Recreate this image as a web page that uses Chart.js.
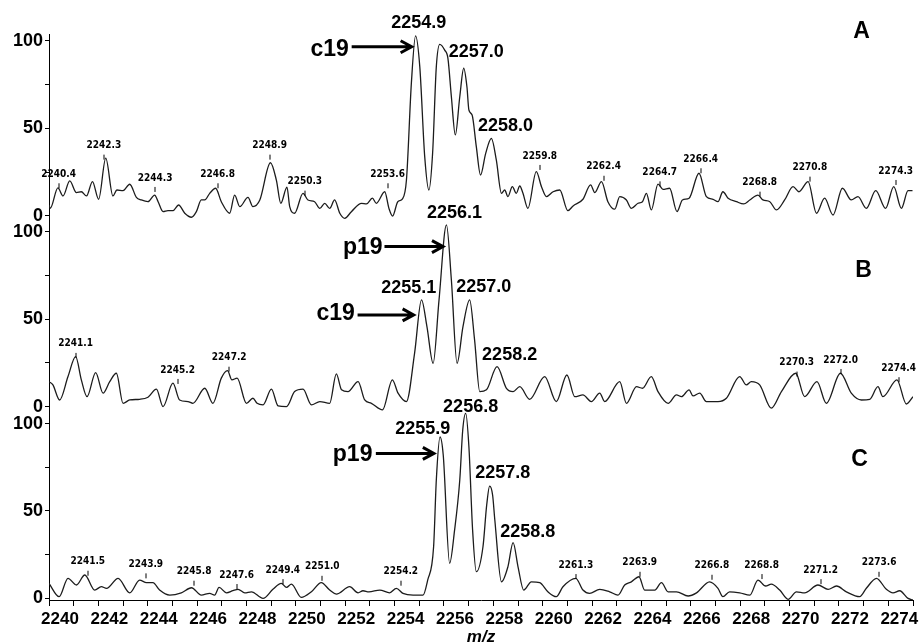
<!DOCTYPE html>
<html>
<head>
<meta charset="utf-8">
<script src="https://cdn.jsdelivr.net/npm/chart.js@4.4.1/dist/chart.umd.min.js"></script>
<style>
  html, body { margin: 0; padding: 0; background: #fff; }
</style>
</head>
<body>
<canvas id="spettro" width="921" height="643"></canvas>
<script>
// spettro A
var mzA = [2240.00, 2240.05, 2240.36, 2240.57, 2240.84, 2241.11, 2241.31, 2241.52, 2241.76, 2242.01,
  2242.30, 2242.59, 2242.75, 2243.00, 2243.27, 2243.54, 2243.74, 2244.01, 2244.28, 2244.42,
  2244.62, 2244.82, 2245.02, 2245.25, 2245.50, 2245.77, 2245.97, 2246.17, 2246.31, 2246.51,
  2246.75, 2246.98, 2247.32, 2247.52, 2247.73, 2248.06, 2248.26, 2248.54, 2248.97, 2249.21,
  2249.39, 2249.64, 2249.75, 2249.95, 2250.29, 2250.49, 2250.76, 2250.97, 2251.17, 2251.37,
  2251.57, 2251.78, 2251.98, 2252.25, 2252.66, 2252.86, 2253.10, 2253.26, 2253.60, 2253.77,
  2253.92, 2254.13, 2254.32, 2254.48, 2254.68, 2254.85, 2255.02, 2255.22, 2255.39, 2255.54,
  2255.69, 2255.83, 2256.03, 2256.16, 2256.30, 2256.46, 2256.64, 2256.80, 2256.93, 2257.01,
  2257.14, 2257.31, 2257.48, 2257.69, 2257.92, 2258.12, 2258.33, 2258.46, 2258.59, 2258.77,
  2258.93, 2259.07, 2259.20, 2259.40, 2259.74, 2259.95, 2260.15, 2260.42, 2260.69, 2261.02,
  2261.23, 2261.63, 2261.94, 2262.11, 2262.38, 2262.64, 2262.92, 2263.12, 2263.39, 2263.59,
  2263.86, 2264.04, 2264.20, 2264.40, 2264.67, 2264.87, 2265.14, 2265.44, 2265.66, 2265.93,
  2266.33, 2266.63, 2266.90, 2267.10, 2267.30, 2267.51, 2267.85, 2268.14, 2268.39, 2268.72,
  2268.92, 2269.20, 2269.47, 2269.80, 2270.14, 2270.38, 2270.75, 2271.09, 2271.42, 2271.76,
  2272.14, 2272.50, 2272.77, 2273.11, 2273.49, 2273.89, 2274.22, 2274.53, 2274.80, 2274.98];
var intA = [6.1, 4.2, 15.9, 11.3, 19.9, 13.2, 13.7, 11.3, 19.5, 9.4,
  32.9, 11.3, 14.7, 14.3, 18.0, 10.5, 9.0, 8.0, 11.8, 8.0,
  2.3, 2.9, 2.9, 6.1, 1.4, -0.9, 2.3, 9.0, 9.0, 12.8,
  15.7, 8.0, 1.4, 11.8, 5.2, 10.5, 5.2, 9.0, 30.3, 20.4,
  7.1, 16.3, 5.2, 1.4, 12.8, 9.0, 8.0, 4.2, 7.1, 4.2,
  9.0, 1.4, -1.5, 2.3, 7.1, 6.7, 10.0, 7.1, 13.7, 4.2,
  -0.2, 8.0, 9.6, 20.4, 76.0, 102.9, 85.3, 33.8, 14.7, 35.9,
  85.3, 98.1, 94.8, 90.1, 68.1, 46.2, 68.1, 84.4, 73.8, 60.5,
  57.6, 39.5, 23.3, 35.7, 44.3, 31.9, 12.8, 14.7, 10.9, 16.6,
  12.8, 17.0, 12.8, 4.2, 25.2, 16.6, 10.9, 13.7, 14.7, 2.9,
  5.6, 9.4, 17.6, 13.2, 19.5, 8.0, 3.7, 10.9, 9.0, 4.2,
  7.1, 8.0, 12.8, 3.3, 18.1, 15.1, 15.7, 2.3, 9.0, 10.0,
  24.3, 10.9, 9.4, 8.0, 13.7, 10.0, 8.0, 6.7, 9.0, 11.8,
  9.0, 8.0, 3.3, 9.0, 16.6, 13.7, 19.5, 1.4, 10.0, 0.4,
  15.7, 9.0, 10.9, 4.2, 14.3, 4.2, 16.6, 4.2, 14.3, 14.3];

// spettro B
var mzB = [2240.00, 2240.16, 2240.43, 2240.77, 2241.08, 2241.31, 2241.54, 2241.89, 2242.19, 2242.46,
  2242.73, 2243.00, 2243.27, 2243.67, 2244.01, 2244.35, 2244.62, 2245.02, 2245.29, 2245.63,
  2245.83, 2246.31, 2246.64, 2246.98, 2247.23, 2247.41, 2247.62, 2248.00, 2248.26, 2248.43,
  2248.67, 2249.01, 2249.28, 2249.62, 2249.95, 2250.29, 2250.63, 2250.97, 2251.37, 2251.64,
  2251.85, 2252.11, 2252.52, 2252.79, 2253.06, 2253.51, 2253.91, 2254.14, 2254.48, 2254.81,
  2255.09, 2255.31, 2255.56, 2255.80, 2256.10, 2256.30, 2256.53, 2256.77, 2257.04, 2257.24,
  2257.45, 2257.72, 2258.15, 2258.53, 2258.80, 2259.07, 2259.47, 2260.08, 2260.55, 2260.98,
  2261.30, 2261.63, 2261.97, 2262.31, 2262.51, 2263.12, 2263.39, 2263.80, 2264.04, 2264.40,
  2264.67, 2265.08, 2265.42, 2265.62, 2265.93, 2266.09, 2266.36, 2266.63, 2267.10, 2267.44,
  2267.98, 2268.25, 2268.45, 2268.79, 2269.26, 2269.67, 2270.25, 2270.61, 2271.11, 2271.49,
  2272.06, 2272.50, 2272.91, 2273.25, 2273.58, 2273.78, 2274.35, 2274.73, 2275.00];
var intB = [14.3, 12.4, 3.8, 17.2, 28.6, 15.3, 5.7, 19.5, 7.7, 14.3,
  19.1, 1.9, 3.8, 4.2, 5.4, 10.0, 0, 13.4, 3.8, 2.9,
  1.9, 10.5, 1.9, 16.3, 20.6, 15.3, 16.3, 1.9, 4.8, 1.9,
  1.0, 10.0, 0.4, 0, 8.6, 10.0, 1.0, 2.9, 1.9, 18.7,
  9.6, 8.6, 14.3, 3.8, 1.9, -1.9, 15.3, 7.7, 2.9, 30.6,
  61.1, 45.8, 24.8, 61.1, 104.0, 72.5, 24.8, 45.8, 61.1, 38.2,
  8.6, 9.6, 22.9, 10.5, 8.6, 11.4, 4.2, 17.2, 2.9, 18.1,
  5.7, 6.7, 2.9, 7.7, 2.9, 14.3, 1.9, 11.4, 10.5, 17.2,
  8.6, 1.9, 6.7, 5.7, 9.6, 6.1, 7.7, 2.9, 2.9, 4.8,
  17.2, 12.4, 14.3, 12.4, -0.9, 8.6, 19.1, 5.7, 14.3, 1.9,
  19.1, 7.7, 3.8, 4.2, 11.4, 5.7, 15.3, 1.5, 5.7];

// spettro C
var mzC = [2240.00, 2240.41, 2240.77, 2241.11, 2241.45, 2241.85, 2242.12, 2242.33, 2242.80, 2243.27,
  2243.67, 2243.95, 2244.21, 2244.48, 2244.89, 2245.36, 2245.77, 2246.17, 2246.51, 2246.71,
  2246.89, 2247.19, 2247.45, 2247.66, 2247.93, 2248.20, 2248.67, 2249.07, 2249.41, 2249.62,
  2249.82, 2250.22, 2250.63, 2251.03, 2251.37, 2251.64, 2252.18, 2252.52, 2252.72, 2252.96,
  2253.40, 2253.80, 2254.07, 2254.34, 2254.75, 2255.15, 2255.34, 2255.58, 2255.69, 2255.84,
  2255.97, 2256.23, 2256.43, 2256.64, 2256.76, 2256.88, 2257.01, 2257.16, 2257.31, 2257.58,
  2257.73, 2257.85, 2257.97, 2258.06, 2258.33, 2258.59, 2258.80, 2259.00, 2259.23, 2259.54,
  2259.88, 2260.21, 2260.55, 2260.82, 2261.34, 2261.63, 2261.90, 2262.31, 2262.71, 2263.05,
  2263.32, 2263.59, 2263.90, 2264.13, 2264.54, 2264.81, 2265.08, 2265.42, 2265.89, 2266.23,
  2266.76, 2267.10, 2267.30, 2267.57, 2267.98, 2268.39, 2268.72, 2269.03, 2269.26, 2269.60,
  2269.94, 2270.28, 2270.61, 2271.15, 2271.56, 2271.90, 2272.30, 2272.84, 2273.11, 2273.52,
  2273.92, 2274.19, 2274.46, 2274.80, 2275.00];
var intC = [8.5, 0.9, 11.4, 7.6, 13.3, 4.7, 6.6, 5.7, 11.4, 3.1,
  10.4, 8.9, 8.9, 4.7, 1.8, 3.1, 6.0, 1.8, 2.8, 1.8,
  6.2, 3.1, 4.3, 5.1, 3.1, 3.7, -0.1, 5.1, 8.5, 6.2,
  8.1, 0.5, 3.7, 8.9, 4.7, 2.4, 6.6, 3.1, 4.3, 3.7,
  4.7, 3.1, 5.7, 2.8, 1.8, 1.8, 10.4, 29.5, 67.7, 92.3,
  82.0, 20.0, 39.0, 67.7, 96.3, 105.8, 86.7, 39.0, 15.2, 29.5,
  53.3, 64.2, 59.1, 44.8, 9.4, 18.0, 31.8, 18.0, 4.7, 9.4,
  8.9, 3.7, 0.9, 6.6, 11.4, 4.7, 2.8, 5.1, 3.7, 1.8,
  7.6, 9.4, 12.3, 4.7, 4.7, 8.9, 3.7, 3.7, 1.3, 3.1,
  9.4, 5.7, 0.9, 3.7, 3.1, 1.8, 10.4, 7.0, 8.1, 4.7,
  -0.6, 3.7, 3.1, 7.6, 5.1, 7.0, 3.7, 0.9, 5.7, 11.4,
  5.1, 3.1, 4.3, -0.1, -1.0];

// etichette dei picchi: [testo, m/z, intensita]
var piccoliA = [['2240.4', 2240.39, 23.7], ['2242.3', 2242.22, 40.1], ['2244.3', 2244.30, 21.6],
  ['2246.8', 2246.83, 23.7], ['2248.9', 2248.94, 40.1], ['2250.3', 2250.36, 19.5],
  ['2253.6', 2253.72, 23.7], ['2259.8', 2259.88, 34.2], ['2262.4', 2262.47, 28.0],
  ['2264.7', 2264.74, 24.8], ['2266.4', 2266.40, 32.3], ['2268.8', 2268.79, 18.9],
  ['2270.8', 2270.82, 27.5], ['2274.3', 2274.30, 25.6]];
var grandiA = [['2254.9', 2254.98, 110.1], ['2257.0', 2257.31, 93.9], ['2258.0', 2258.49, 51.3]];
var frecceA = [['c19', 2251.37, 95.2, 2252.26, 2254.69, 96.7]];

var piccoliB = [['2241.1', 2241.08, 35.9], ['2245.2', 2245.21, 21.0], ['2247.2', 2247.30, 28.0],
  ['2270.3', 2270.29, 25.2], ['2272.0', 2272.07, 26.7], ['2274.4', 2274.42, 22.0]];
var grandiB = [['2256.1', 2256.43, 110.7], ['2255.1', 2254.57, 67.8], ['2257.0', 2257.61, 68.7],
  ['2258.2', 2258.66, 29.6]];
var frecceB = [['p19', 2252.71, 91.0, 2253.59, 2255.96, 91.6], ['c19', 2251.61, 53.1, 2252.50, 2254.77, 52.5]];

var piccoliC = [['2241.5', 2241.57, 20.9], ['2243.9', 2243.92, 19.4], ['2245.8', 2245.88, 15.2],
  ['2247.6', 2247.60, 13.3], ['2249.4', 2249.47, 16.1], ['2251.0', 2251.07, 18.0],
  ['2254.2', 2254.25, 15.2], ['2261.3', 2261.34, 19.0], ['2263.9', 2263.93, 20.3],
  ['2266.8', 2266.85, 18.6], ['2268.8', 2268.87, 19.0], ['2271.2', 2271.26, 16.1],
  ['2273.6', 2273.63, 20.3]];
var grandiC = [['2255.9', 2255.14, 96.7], ['2256.8', 2257.08, 109.3], ['2257.8', 2258.38, 71.5],
  ['2258.8', 2259.39, 38.1]];
var frecceC = [['p19', 2252.30, 82.4, 2253.24, 2255.59, 82.9]];

var pannelli = [
  { asse: 'yA', lettera: ['A', 2272.92, 105.3], piccoli: piccoliA, grandi: grandiA, frecce: frecceA },
  { asse: 'yB', lettera: ['B', 2273.00, 77.7], piccoli: piccoliB, grandi: grandiB, frecce: frecceB },
  { asse: 'yC', lettera: ['C', 2272.84, 79.5], piccoli: piccoliC, grandi: grandiC, frecce: frecceC }
];

function punti(xs, ys) {
  return xs.map(function (x, i) { return { x: x, y: ys[i] }; });
}

function serie(xs, ys, asse) {
  return {
    data: punti(xs, ys),
    yAxisID: asse,
    borderColor: '#1c1c1c',
    borderWidth: 1.3,
    pointRadius: 0,
    cubicInterpolationMode: 'monotone',
    fill: false
  };
}

function disegnaFreccia(ctx, x1, x2, y) {
  ctx.beginPath();
  ctx.moveTo(x1, y);
  ctx.lineTo(x2 - 2, y);
  ctx.moveTo(x2 - 11, y - 6);
  ctx.lineTo(x2, y);
  ctx.lineTo(x2 - 11, y + 6);
  ctx.stroke();
}

// scritte sopra i picchi, frecce e lettere dei pannelli
var annotazioni = {
  id: 'annotazioni',
  afterDatasetsDraw: function (chart) {
    var ctx = chart.ctx;
    var sx = chart.scales.x;
    ctx.save();
    ctx.fillStyle = '#000';
    ctx.strokeStyle = '#000';
    ctx.textAlign = 'center';
    ctx.textBaseline = 'middle';
    pannelli.forEach(function (p) {
      var sy = chart.scales[p.asse];
      ctx.font = "bold 10px 'Liberation Sans Narrow', 'DejaVu Sans Condensed', sans-serif";
      p.piccoli.forEach(function (e) {
        var px = sx.getPixelForValue(e[1]), py = sy.getPixelForValue(e[2]);
        ctx.fillText(e[0], px, py);
        ctx.fillRect(Math.round(px) - 0.5, py + 9, 1, 5);
      });
      ctx.font = "bold 18px 'Liberation Sans', Arial, sans-serif";
      p.grandi.forEach(function (e) {
        ctx.fillText(e[0], sx.getPixelForValue(e[1]), sy.getPixelForValue(e[2]));
      });
      p.frecce.forEach(function (e) {
        ctx.font = "bold 23px 'Liberation Sans', Arial, sans-serif";
        ctx.fillText(e[0], sx.getPixelForValue(e[1]), sy.getPixelForValue(e[2]));
        ctx.lineWidth = 3;
        disegnaFreccia(ctx, sx.getPixelForValue(e[3]), sx.getPixelForValue(e[4]), sy.getPixelForValue(e[5]));
      });
      ctx.font = "bold 23px 'Liberation Sans', Arial, sans-serif";
      ctx.fillText(p.lettera[0], sx.getPixelForValue(p.lettera[1]), sy.getPixelForValue(p.lettera[2]));
    });
    ctx.restore();
  }
};

function asseY(min, max, peso) {
  return {
    type: 'linear',
    position: 'left',
    stack: 'pannelli',
    stackWeight: 1,
    weight: peso,
    min: min,
    max: max,
    afterBuildTicks: function (s) {
      s.ticks = [0, 25, 50, 75, 100].map(function (v) { return { value: v }; });
    },
    afterFit: function (s) { s.width = 49; },
    ticks: {
      autoSkip: false,
      padding: 2,
      color: '#000',
      font: { size: 18, weight: 'bold' },
      callback: function (v) { return v % 50 === 0 ? String(v) : ''; }
    },
    grid: { drawOnChartArea: false, tickLength: 4, tickColor: '#000' },
    border: { color: '#000', width: 1 }
  };
}

Chart.defaults.font.family = "'Liberation Sans', Arial, sans-serif";

var ctx = document.getElementById('spettro').getContext('2d');
var grafico = new Chart(ctx, {
  type: 'line',
  data: {
    datasets: [serie(mzA, intA, 'yA'), serie(mzB, intB, 'yB'), serie(mzC, intC, 'yC')]
  },
  options: {
    responsive: false,
    animation: false,
    layout: { padding: { top: 34, right: 8, left: 0, bottom: 0 } },
    plugins: { legend: { display: false }, tooltip: { enabled: false } },
    scales: {
      x: {
        type: 'linear',
        min: 2240,
        max: 2275,
        afterFit: function (s) { s.height = 43; },
        ticks: {
          stepSize: 1,
          autoSkip: false,
          maxRotation: 0,
          minRotation: 0,
          labelOffset: 11,
          padding: 3,
          color: '#000',
          font: { size: 17, weight: 'bold' },
          callback: function (v) { return v % 2 === 0 ? String(v) : ''; }
        },
        grid: { drawOnChartArea: false, tickLength: 6, tickColor: '#000' },
        border: { color: '#000', width: 1 },
        title: {
          display: true,
          text: 'm/z',
          color: '#000',
          font: { size: 17, weight: 'bold', style: 'italic', lineHeight: 1 },
          padding: { top: 0, bottom: -3 }
        }
      },
      yA: asseY(-4, 104, 3),
      yB: asseY(-2.7, 105.3, 2),
      yC: asseY(-1, 107, 1)
    }
  },
  plugins: [annotazioni]
});
</script>
</body>
</html>
